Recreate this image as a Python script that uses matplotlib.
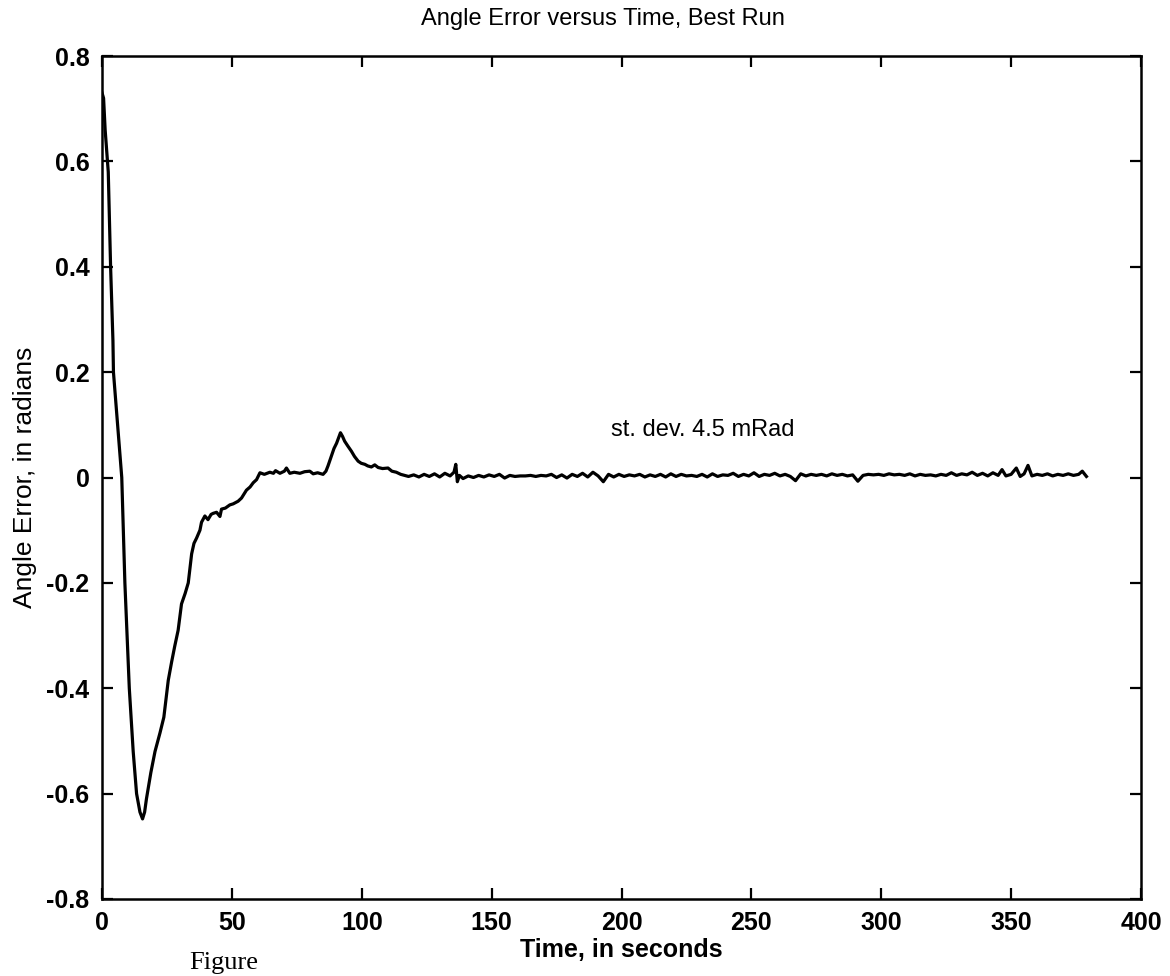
import matplotlib
matplotlib.use("Agg")
import matplotlib.pyplot as plt

# angle error of the best run
time_s = [
    0.0, 0.6, 1.2, 2.4, 3.3, 4.2, 4.4, 6.0, 7.6, 8.8, 10.5, 12.0, 13.3, 14.6,
    15.6, 16.4, 17.1, 18.8, 20.4, 22.3, 23.8, 25.5, 26.8, 28.0, 29.3, 30.6,
    32.0, 33.2, 34.5, 35.4, 36.4, 37.7, 38.3, 39.6, 40.8, 42.0, 42.8, 44.1,
    45.4, 46.0, 47.5, 49.2, 50.5, 52.4, 53.7, 55.6, 57.0, 58.2, 59.5, 60.8,
    62.5, 64.6, 66.0, 66.8, 68.5, 70.2, 71.0, 72.3, 74.0, 76.2, 78.0, 80.0,
    81.3, 83.0, 85.1, 86.2, 87.0, 88.3, 89.3, 90.3, 91.8, 92.6, 93.4, 94.6,
    96.0, 97.2, 98.6, 99.8, 101.2, 102.3, 103.7, 105.0, 106.3, 108.0, 110.1,
    111.6, 113.3, 115.0, 117.2,
    118, 120, 122, 124, 126, 128, 130, 132, 134, 135.5, 136.2, 136.8, 137.6,
    139, 141, 143, 145, 147, 149, 151, 153, 155, 157, 159, 161, 163, 165,
    167, 169, 171, 173, 175, 177, 179, 181, 183, 185, 187, 189, 191, 193,
    195, 197, 199, 201, 203, 205, 207, 209, 211, 213, 215, 217, 219, 221,
    223, 225, 227, 229, 231, 233, 235, 237, 239, 241, 243, 245, 247, 249,
    251, 253, 255, 257, 259, 261, 263, 265, 267, 269, 271, 273, 275, 277,
    279, 281, 283, 285, 287, 289, 291, 293, 295, 297, 299, 301, 303, 305,
    307, 309, 311, 313, 315, 317, 319, 321, 323, 325, 327, 329, 331, 333,
    335, 337, 339, 341, 343, 345, 346.5, 348, 350, 352, 353.5, 355, 356.5,
    358, 360, 362, 364, 366, 368, 370, 372, 374, 376, 377.4, 379,
]
angle_err = [
    0.73, 0.72, 0.66, 0.58, 0.40, 0.26, 0.20, 0.10, 0.0, -0.20, -0.40, -0.52,
    -0.60, -0.635, -0.648, -0.635, -0.61, -0.56, -0.52, -0.485, -0.455,
    -0.385, -0.35, -0.32, -0.29, -0.24, -0.22, -0.20, -0.145, -0.125, -0.115,
    -0.10, -0.085, -0.073, -0.08, -0.07, -0.068, -0.066, -0.074, -0.06,
    -0.058, -0.052, -0.05, -0.045, -0.039, -0.024, -0.018, -0.01, -0.004,
    0.009, 0.006, 0.010, 0.008, 0.013, 0.008, 0.012, 0.018, 0.008, 0.010,
    0.008, 0.011, 0.012, 0.007, 0.009, 0.006, 0.012, 0.022, 0.041, 0.055,
    0.065, 0.085, 0.078, 0.069, 0.060, 0.050, 0.040, 0.031, 0.027, 0.025,
    0.022, 0.020, 0.024, 0.019, 0.017, 0.018, 0.012, 0.010, 0.006, 0.003,
    0.002, 0.005, 0.001, 0.006, 0.002, 0.007, 0.001, 0.008, 0.003, 0.010,
    0.025, -0.008, 0.004, -0.002, 0.003, 0.000, 0.004, 0.001, 0.005, 0.002,
    0.006, -0.001, 0.004, 0.002, 0.003, 0.003, 0.004, 0.002, 0.004, 0.003,
    0.006, 0.000, 0.005, -0.001, 0.006, 0.002, 0.008, 0.001, 0.010, 0.003,
    -0.008, 0.006, 0.001, 0.006, 0.002, 0.005, 0.003, 0.006, 0.001, 0.005,
    0.002, 0.006, 0.001, 0.007, 0.002, 0.006, 0.003, 0.004, 0.002, 0.006,
    0.001, 0.007, 0.002, 0.005, 0.004, 0.008, 0.002, 0.006, 0.003, 0.009,
    0.002, 0.006, 0.004, 0.008, 0.003, 0.006, 0.002, -0.006, 0.007, 0.003,
    0.006, 0.004, 0.006, 0.003, 0.007, 0.004, 0.006, 0.003, 0.005, -0.007,
    0.004, 0.006, 0.005, 0.006, 0.004, 0.007, 0.005, 0.006, 0.004, 0.007,
    0.003, 0.006, 0.004, 0.005, 0.003, 0.006, 0.004, 0.009, 0.004, 0.007,
    0.005, 0.010, 0.004, 0.008, 0.003, 0.009, 0.004, 0.015, 0.003, 0.006,
    0.018, 0.002, 0.007, 0.023, 0.003, 0.006, 0.004, 0.007, 0.003, 0.006,
    0.004, 0.007, 0.004, 0.006, 0.012, 0.002,
]

x_ticks = [0, 50, 100, 150, 200, 250, 300, 350, 400]
y_ticks = [-0.8, -0.6, -0.4, -0.2, 0, 0.2, 0.4, 0.6, 0.8]
y_tick_labels = ["-0.8", "-0.6", "-0.4", "-0.2", "0", "0.2", "0.4", "0.6", "0.8"]

plt.rcParams["font.family"] = ["Liberation Sans", "DejaVu Sans"]

fig = plt.figure(figsize=(11.7, 9.76), dpi=100)
ax = fig.add_axes([0.0872, 0.0789, 0.888, 0.8637])

ax.plot(time_s, angle_err, color="black", lw=2.3)
ax.text(196, 0.09, "st. dev. 4.5 mRad", fontsize=17, va="center", ha="left")

ax.set_xlim(0, 400)
ax.set_ylim(-0.8, 0.8)
ax.set_xticks(x_ticks)
ax.set_xticklabels([str(t) for t in x_ticks])
ax.set_yticks(y_ticks)
ax.set_yticklabels(y_tick_labels)
ax.tick_params(direction="in", length=8, width=1.6, top=True, right=True,
               labelsize=18, pad=9)
for lbl in ax.get_xticklabels() + ax.get_yticklabels():
    lbl.set_fontweight("bold")
for sp in ax.spines.values():
    sp.set_linewidth(1.8)

ax.set_xlabel("Time, in seconds", fontsize=18, fontweight="bold", labelpad=2)
ax.set_ylabel("Angle Error, in radians", fontsize=19, labelpad=7)
fig.text(0.515, 0.981, "Angle Error versus Time, Best Run", fontsize=17,
         ha="center", va="center")
fig.text(0.162, 0.002, "Figure", fontsize=19, family="Liberation Serif",
         ha="left", va="bottom")

fig.savefig("out.png", dpi=100, facecolor="white")
